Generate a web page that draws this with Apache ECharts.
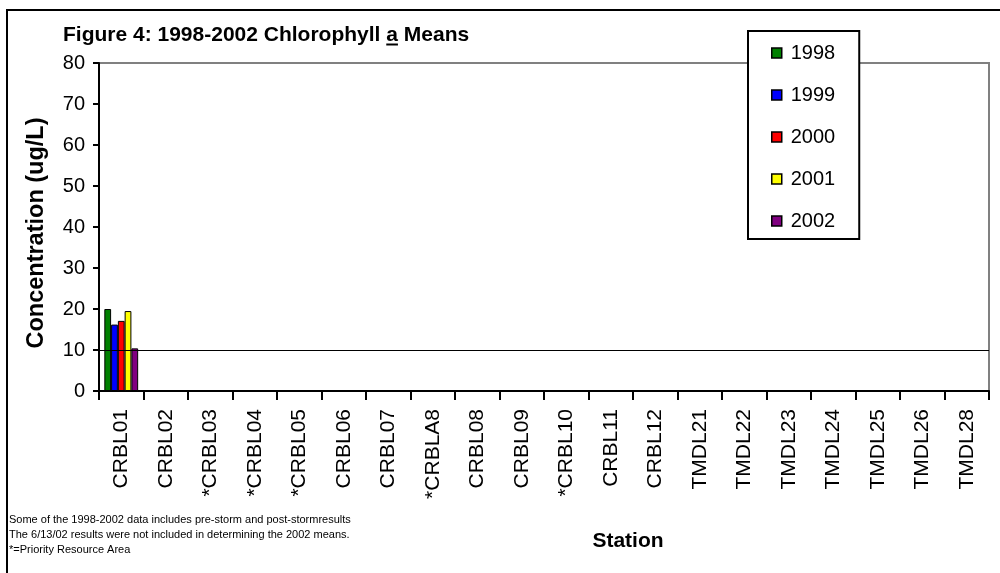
<!DOCTYPE html>
<html>
<head>
<meta charset="utf-8">
<title>Figure 4: 1998-2002 Chlorophyll a Means</title>
<script src="https://cdn.jsdelivr.net/npm/echarts@6/dist/echarts.min.js"></script>
<style>
    html,body{margin:0;padding:0;background:#fff;}
    #chart{width:1000px;height:573px;}
</style>
</head>
<body>
<div id="chart"></div>
<script>
var stations = ['CRBL01','CRBL02','*CRBL03','*CRBL04','*CRBL05','CRBL06','CRBL07','*CRBLA8','CRBL08','CRBL09',
                '*CRBL10','CRBL11','CRBL12','TMDL21','TMDL22','TMDL23','TMDL24','TMDL25','TMDL26','TMDL28'];
var years = ['1998','1999','2000','2001','2002'];
var colors = ['#008000','#0000ff','#ff0000','#ffff00','#800080'];

// only CRBL01 has values, the other stations are empty
var v1998 = [20.0, null,null,null,null,null,null,null,null,null,null,null,null,null,null,null,null,null,null,null];
var v1999 = [16.2, null,null,null,null,null,null,null,null,null,null,null,null,null,null,null,null,null,null,null];
var v2000 = [17.1, null,null,null,null,null,null,null,null,null,null,null,null,null,null,null,null,null,null,null];
var v2001 = [19.5, null,null,null,null,null,null,null,null,null,null,null,null,null,null,null,null,null,null,null];
var v2002 = [10.4, null,null,null,null,null,null,null,null,null,null,null,null,null,null,null,null,null,null,null];
var seriesValues = [v1998, v1999, v2000, v2001, v2002];

var threshold = 10;
var yMin = 0, yMax = 80, yStep = 10;

var notes = [
    'Some of the 1998-2002 data includes pre-storm and post-stormresults',
    'The 6/13/02 results were not included in determining the 2002 means.',
    '*=Priority Resource Area'
];

var FONT = 'Arial, "Liberation Sans", sans-serif';

// title pieces, the "a" is underlined
var ctx = document.createElement('canvas').getContext('2d');
ctx.font = 'bold 21px ' + FONT;
var t1 = 'Figure 4: 1998-2002 Chlorophyll ', t2 = 'a', t3 = ' Means';
var w1 = ctx.measureText(t1).width, w2 = ctx.measureText(t2).width;
var tx = 63, ty = 35;

var series = years.map(function (y, i) {
    var s = {
        name: y,
        type: 'bar',
        data: seriesValues[i],
        barGap: '0%',
        barCategoryGap: '24%',
        itemStyle: {color: colors[i], borderColor: '#000', borderWidth: 1}
    };
    if (i == 0) {
        s.markLine = {
            silent: true,
            symbol: 'none',
            label: {show: false},
            lineStyle: {color: '#000', width: 1, type: 'solid'},
            data: [{yAxis: threshold}]
        };
    }
    return s;
});

var chart = echarts.init(document.getElementById('chart'));
var option = {
    animation: false,
    color: colors,
    grid: {
        left: 99, right: 11, top: 63, bottom: 182,
        show: true, borderColor: '#808080', borderWidth: 2, backgroundColor: '#fff'
    },
    legend: {
        orient: 'vertical',
        left: 748, top: 31,
        padding: [12, 24, 8, 23],
        itemGap: 22,
        itemWidth: 10, itemHeight: 10,
        icon: 'rect',
        borderColor: '#000', borderWidth: 2,
        backgroundColor: '#fff',
        itemStyle: {borderColor: '#000', borderWidth: 1.5},
        textStyle: {fontFamily: FONT, fontSize: 20, color: '#000', lineHeight: 20, padding: [0, 0, 0, 4]},
        data: years
    },
    xAxis: {
        type: 'category',
        data: stations,
        axisLine: {lineStyle: {color: '#000', width: 2}},
        axisTick: {show: true, length: 9, lineStyle: {color: '#000', width: 2}},
        axisLabel: {rotate: 90, interval: 0, margin: 18, fontFamily: FONT, fontSize: 21, color: '#000'},
        splitLine: {show: false}
    },
    yAxis: {
        type: 'value',
        min: yMin, max: yMax, interval: yStep,
        name: 'Concentration (ug/L)',
        nameLocation: 'middle',
        nameGap: 50,
        nameTextStyle: {fontFamily: FONT, fontSize: 23.5, fontWeight: 'bold', color: '#000', padding: [0, 12, 0, 0]},
        axisLine: {show: true, lineStyle: {color: '#000', width: 2}},
        axisTick: {show: true, length: 6, lineStyle: {color: '#000', width: 2}},
        axisLabel: {margin: 14, fontFamily: FONT, fontSize: 20, color: '#000'},
        splitLine: {show: false}
    },
    graphic: [
        {type: 'rect', silent: true, z: -1, shape: {x: 7, y: 10, width: 1100, height: 700},
         style: {fill: 'none', stroke: '#000', lineWidth: 2}},
        {type: 'text', x: tx, y: ty, style: {text: t1, font: 'bold 21px ' + FONT, fill: '#000', verticalAlign: 'middle'}},
        {type: 'text', x: tx + w1, y: ty, style: {text: t2, font: 'bold 21px ' + FONT, fill: '#000', verticalAlign: 'middle'}},
        {type: 'line', shape: {x1: tx + w1, y1: ty + 9.5, x2: tx + w1 + w2, y2: ty + 9.5}, style: {stroke: '#000', lineWidth: 2}},
        {type: 'text', x: tx + w1 + w2, y: ty, style: {text: t3, font: 'bold 21px ' + FONT, fill: '#000', verticalAlign: 'middle'}},
        {type: 'text', x: 628, y: 541, style: {text: 'Station', font: 'bold 21px ' + FONT, fill: '#000', align: 'center', verticalAlign: 'middle'}},
        {type: 'text', x: 9, y: 512, style: {text: notes.join('\n'), font: '11px ' + FONT, lineHeight: 15, fill: '#000'}}
    ],
    series: series
};
chart.setOption(option);
</script>
</body>
</html>
